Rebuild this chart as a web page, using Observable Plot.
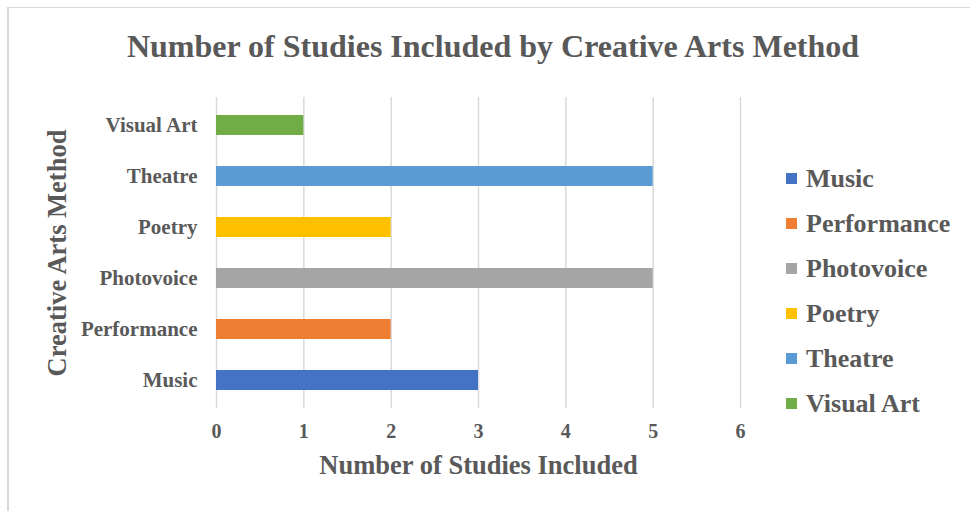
<!DOCTYPE html>
<html>
<head>
<meta charset="utf-8">
<script src="https://cdn.jsdelivr.net/npm/d3@7"></script>
<script src="https://cdn.jsdelivr.net/npm/@observablehq/plot@0.6"></script>
<style>
  html, body { margin: 0; padding: 0; background: #fff; }
  #frame { position: relative; width: 970px; height: 511px; overflow: hidden; }
  #border { position: absolute; left: 7px; top: 7px; width: 1000px; height: 520px; border-left: 2px solid #d9d9d9; border-top: 1.5px solid #d9d9d9; box-sizing: border-box; }
  #title { position: absolute; left: 0; top: 26px; width: 986px; text-align: center; line-height: 40px;
           font-family: "Liberation Serif", "Times New Roman", serif; font-weight: bold; font-size: 32px; color: #595959; }
  #chart { position: absolute; left: 0; top: 80px; }
  #legend { position: absolute; left: 786px; top: 156px; font-family: "Liberation Serif", serif; font-weight: bold; font-size: 26px; color: #595959; }
  .row { height: 45px; display: flex; align-items: center; margin: 0; }
  .row .sw { width: 11px; height: 11px; margin-right: 9px; }
  .row span { line-height: 30px; }
</style>
</head>
<body>
<div id="frame">
  <div id="border"></div>
  <div id="title"></div>
  <div id="chart"></div>
  <div id="legend"></div>
</div>
<script>
const titleText = "Number of Studies Included by Creative Arts Method";
const xLabel = "Number of Studies Included";
const yLabel = "Creative Arts Method";
const methods = ["Music", "Performance", "Photovoice", "Poetry", "Theatre", "Visual Art"];
const studies = [3, 2, 5, 2, 5, 1];
const colors = ["#4472C4", "#ED7D31", "#A5A5A5", "#FFC000", "#5B9BD5", "#70AD47"];
const xTicks = [0, 1, 2, 3, 4, 5, 6];

const data = methods.map((m, i) => ({method: m, value: studies[i]}));

document.getElementById("title").textContent = titleText;

const fontStyle = {fontFamily: "'Liberation Serif', 'Times New Roman', serif", fontWeight: "bold", fontSize: "20px", color: "#595959", background: "transparent"};

const chart = Plot.plot({
  width: 970,
  height: 431,
  marginLeft: 216,
  marginRight: 230,
  marginTop: 17,
  marginBottom: 103,
  style: fontStyle,
  x: {domain: [0, 6]},
  y: {domain: methods.slice().reverse(), paddingInner: 0.61, paddingOuter: 0.305},
  color: {domain: methods, range: colors},
  marks: [
    Plot.gridX(xTicks, {stroke: "#d9d9d9", strokeOpacity: 1, strokeWidth: 1.5}),
    Plot.barX(data, {x: "value", y: "method", fill: "method"}),
    Plot.axisX({ticks: xTicks, tickSize: 0, tickPadding: 15, tickFormat: d => String(d), fontSize: 20, label: xLabel, labelArrow: "none", labelAnchor: "center", labelOffset: 65, fill: "#595959"}),
    Plot.axisY({tickSize: 0, tickPadding: 19, fontSize: 21, label: yLabel, labelAnchor: "center", labelOffset: 169, fill: "#595959"})
  ]
});
document.getElementById("chart").appendChild(chart);

// enlarge axis label font
chart.querySelectorAll("[aria-label='x-axis label'], [aria-label='y-axis label']").forEach(g => {
  g.setAttribute("font-size", "26.5");
  g.style.fontSize = "26.5px";
});

const legend = document.getElementById("legend");
methods.forEach((m, i) => {
  const row = document.createElement("div");
  row.className = "row";
  const sw = document.createElement("div");
  sw.className = "sw";
  sw.style.background = colors[i];
  const t = document.createElement("span");
  t.textContent = m;
  row.appendChild(sw);
  row.appendChild(t);
  legend.appendChild(row);
});
</script>
</body>
</html>
